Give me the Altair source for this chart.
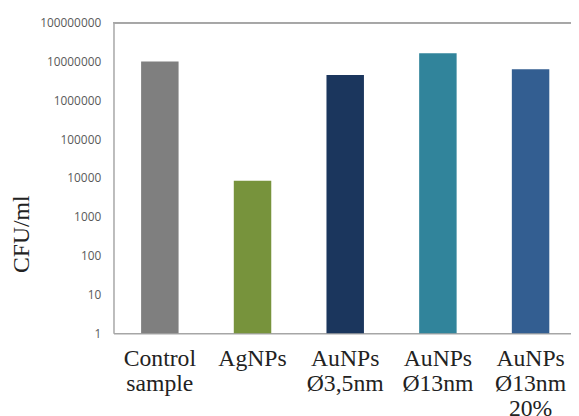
import altair as alt
import pandas as pd

categories = ["Control|sample", "AgNPs", "AuNPs|Ø3,5nm", "AuNPs|Ø13nm", "AuNPs|Ø13nm|20%"]
values = [10000000, 8500, 4500000, 16500000, 6300000]
colors = ["#7f7f7f", "#77933c", "#1b365d", "#31849b", "#335e91"]
tick_values = [1, 10, 100, 1000, 10000, 100000, 1000000, 10000000, 100000000]

df = pd.DataFrame({"cat": categories, "val": values, "base": [1] * len(values), "color": colors})

frame_color = "#a6a6a6"

bars = alt.Chart(df).mark_bar(size=38).encode(
    x=alt.X("cat:N", sort=categories, title=None,
            scale=alt.Scale(paddingInner=0.6, paddingOuter=0.3, range=[0, 470]),
            axis=alt.Axis(labelAngle=0, labelExpr="split(datum.label, '|')",
                          labelFont="Liberation Serif", labelFontSize=24, labelColor="#222222",
                          labelLineHeight=25, labelPadding=14, ticks=False,
                          domain=True, domainColor=frame_color, domainWidth=1.5,
                          labelBaseline="top", labelOverlap=False)),
    y=alt.Y("val:Q", title="CFU/ml",
            scale=alt.Scale(type="log", domain=[1, 100000000]),
            axis=alt.Axis(values=tick_values, format="d", grid=False, ticks=False,
                          domain=True, domainColor=frame_color, domainWidth=1.5,
                          labelFont="Open Sans", labelFontSize=12, labelColor="#595959",
                          labelPadding=13,
                          titleFont="Liberation Serif", titleFontSize=24, titleFontWeight="normal",
                          titleColor="#222222", titleAngle=-90, titleX=-81, titleY=214)),
    y2="base:Q",
    color=alt.Color("color:N", scale=None),
)

top_line = alt.Chart(df).mark_rule(color=frame_color, strokeWidth=1.5).encode(
    x=alt.value(0), x2=alt.value(470), y=alt.value(0)
)

chart = alt.layer(bars, top_line).properties(
    width=464, height=315,
    padding={"left": 107, "top": 12, "right": 0, "bottom": 90},
    autosize=alt.AutoSizeParams(type="none"),
).configure_view(stroke=None)

chart.save("out.html", embed_options={"renderer": "svg", "actions": False})
